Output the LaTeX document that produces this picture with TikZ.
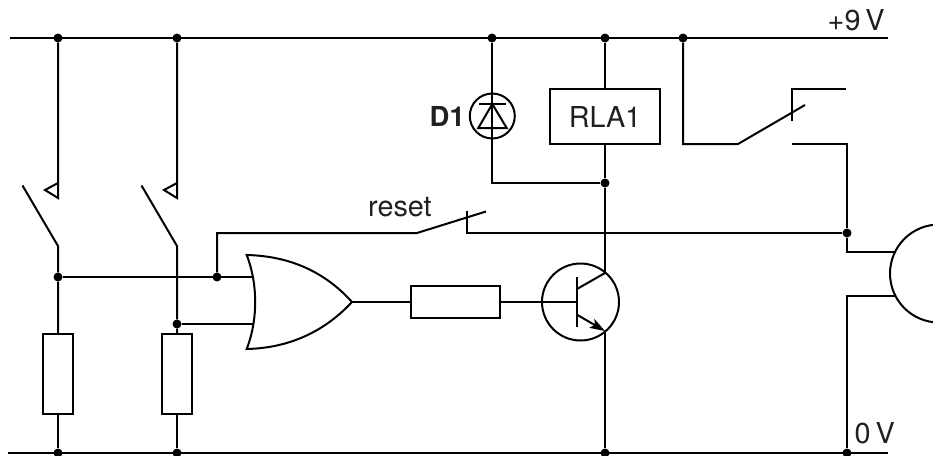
\documentclass[tikz,border=0pt]{standalone}
\usepackage{fontspec}
\setmainfont{TeX Gyre Heros}
\usetikzlibrary{arrows.meta}
\definecolor{ink}{HTML}{231F20}
\tikzset{
  wire/.style={line width=2pt,line join=miter,line cap=butt,black},
  dotj/.style={circle,fill=black,inner sep=0pt,minimum size=9pt},
  res/.style={draw,line width=2pt,inner sep=0pt,minimum width=30pt,minimum height=80pt},
  res2/.style={draw,line width=2pt,inner sep=0pt,minimum width=89pt,minimum height=32pt},
  relay/.style={draw,line width=2pt,inner sep=0pt,minimum width=110pt,minimum height=55pt,text=ink,font=\fontsize{28.8}{30}\selectfont},
  ring/.style={draw,circle,line width=2pt,inner sep=0pt},
  lab/.style={text=ink,inner sep=0pt,font=\fontsize{28.8}{30}\selectfont}
}
\begin{document}
\begin{tikzpicture}[x=1pt,y=-1pt]
\useasboundingbox (0,0) rectangle (933,455);
% rails
\coordinate (tl) at (10,38); \coordinate (tr) at (888,38);
\coordinate (bl) at (8,453); \coordinate (br) at (888,453);
\draw[wire] (tl) -- (tr);
\draw[wire] (bl) -- (br);
% junctions
\node[dotj] (t1) at (58,38) {};
\node[dotj] (t2) at (177,38) {};
\node[dotj] (t3) at (492,38) {};
\node[dotj] (t4) at (605,38) {};
\node[dotj] (t5) at (683,38) {};
\node[dotj] (b1) at (58,453) {};
\node[dotj] (b2) at (177,453) {};
\node[dotj] (b3) at (605,453) {};
\node[dotj] (b4) at (847,453) {};
\node[dotj] (j1) at (58,277) {};
\node[dotj] (j2) at (177,324) {};
\node[dotj] (j3) at (217,277) {};
\node[dotj] (j4) at (605,183) {};
\node[dotj] (j5) at (847,233) {};
% resistors and relay
\node[res] (r1) at (58,374) {};
\node[res] (r2) at (177,374) {};
\node[res2] (r3) at (455.5,302) {};
\node[relay] (rla) at (605,116.5) {RLA1};
% left switches
\coordinate (c1) at (58,198); \coordinate (c1t) at (45,190); \coordinate (c1u) at (58,183);
\coordinate (p1) at (58,246); \coordinate (a1) at (22.5,185.5);
\draw[wire] (t1) -- (c1) -- (c1t) -- (c1u);
\draw[wire] (a1) -- (p1) -- (j1) -- (r1.north);
\draw[wire] (r1.south) -- (b1);
\coordinate (c2) at (177,198); \coordinate (c2t) at (164,190); \coordinate (c2u) at (177,183);
\coordinate (p2) at (177,246); \coordinate (a2) at (141.5,185.5);
\draw[wire] (t2) -- (c2) -- (c2t) -- (c2u);
\draw[wire] (a2) -- (p2) -- (j2) -- (r2.north);
\draw[wire] (r2.south) -- (b2);
% OR gate
\coordinate (gt) at (246.7,255); \coordinate (gb) at (246.7,349);
\coordinate (go) at (352,302); \coordinate (gi1) at (253.2,277); \coordinate (gi2) at (253.2,324);
\draw[wire,line join=miter] (gt) .. controls (290,256) and (325,272) .. (go)
  .. controls (325,331) and (290,348) .. (gb)
  .. controls (258,320) and (258,284) .. cycle;
\draw[wire] (j1) -- (gi1);
\draw[wire] (j2) -- (gi2);
\draw[wire] (go) -- (r3.west);
% reset switch
\coordinate (rs0) at (217,233); \coordinate (rs1) at (417,233); \coordinate (rs2) at (486,211.5);
\coordinate (rs3) at (467,211); \coordinate (rs4) at (467,233);
\draw[wire] (j3) -- (rs0) -- (rs1) -- (rs2);
\draw[wire] (rs3) -- (rs4) -- (j5);
\node[lab,anchor=base west] (resetlab) at (368,216.5) {reset};
% transistor
\node[ring,minimum size=77pt] (q) at (580.5,302) {};
\coordinate (qb) at (577,302); \coordinate (qb1) at (577,277); \coordinate (qb2) at (577,327);
\coordinate (qc0) at (577.5,288.7); \coordinate (qc) at (605,273);
\coordinate (qe0) at (577.5,315); \coordinate (qe) at (605,331);
\draw[wire] (r3.east) -- (qb);
\draw[wire] (qb1) -- (qb2);
\draw[wire] (qc0) -- (qc);
\draw[wire,-{Stealth[length=15pt,width=10pt,inset=3pt]}] (qe0) -- (qe);
\draw[wire] (rla.south) -- (j4) -- (qc);
\draw[wire] (qe) -- (b3);
\draw[wire] (t4) -- (rla.north);
% diode
\node[ring,minimum size=45pt] (d) at (492.3,116) {};
\coordinate (dk1) at (479,104); \coordinate (dk2) at (506,104);
\coordinate (dap) at (492.3,104); \coordinate (da1) at (478.3,128); \coordinate (da2) at (506.7,128);
\draw[wire] (dk1) -- (dk2);
\draw[wire] (da1) -- (dap) -- (da2) -- cycle;
\coordinate (dw) at (492,183);
\draw[wire] (t3) -- (dw) -- (j4);
\node[lab,anchor=base west,font=\fontsize{27.5}{30}\selectfont\bfseries] (d1lab) at (429.5,126.5) {D1};
% relay contacts
\coordinate (k1) at (683,144); \coordinate (k2) at (738,144); \coordinate (k3) at (805,105);
\coordinate (k4) at (792,120.5); \coordinate (k5) at (792,89); \coordinate (k6) at (846,89);
\coordinate (k7) at (792,144); \coordinate (k8) at (847,144);
\draw[wire] (t5) -- (k1) -- (k2) -- (k3);
\draw[wire] (k4) -- (k5) -- (k6);
\draw[wire] (k7) -- (k8) -- (j5);
% motor
\node[ring,minimum size=98pt] (m) at (939,273.5) {};
\coordinate (m1) at (847,252); \coordinate (m2) at (895,252);
\coordinate (m3) at (895,296); \coordinate (m4) at (847,296);
\draw[wire] (j5) -- (m1) -- (m2);
\draw[wire] (m3) -- (m4) -- (b4);
% rail labels
\node[lab,anchor=base west] (p9) at (827.5,30.5) {+9\,V};
\node[lab,anchor=base west] (z0) at (854.5,443.5) {0\,V};
\end{tikzpicture}
\end{document}
